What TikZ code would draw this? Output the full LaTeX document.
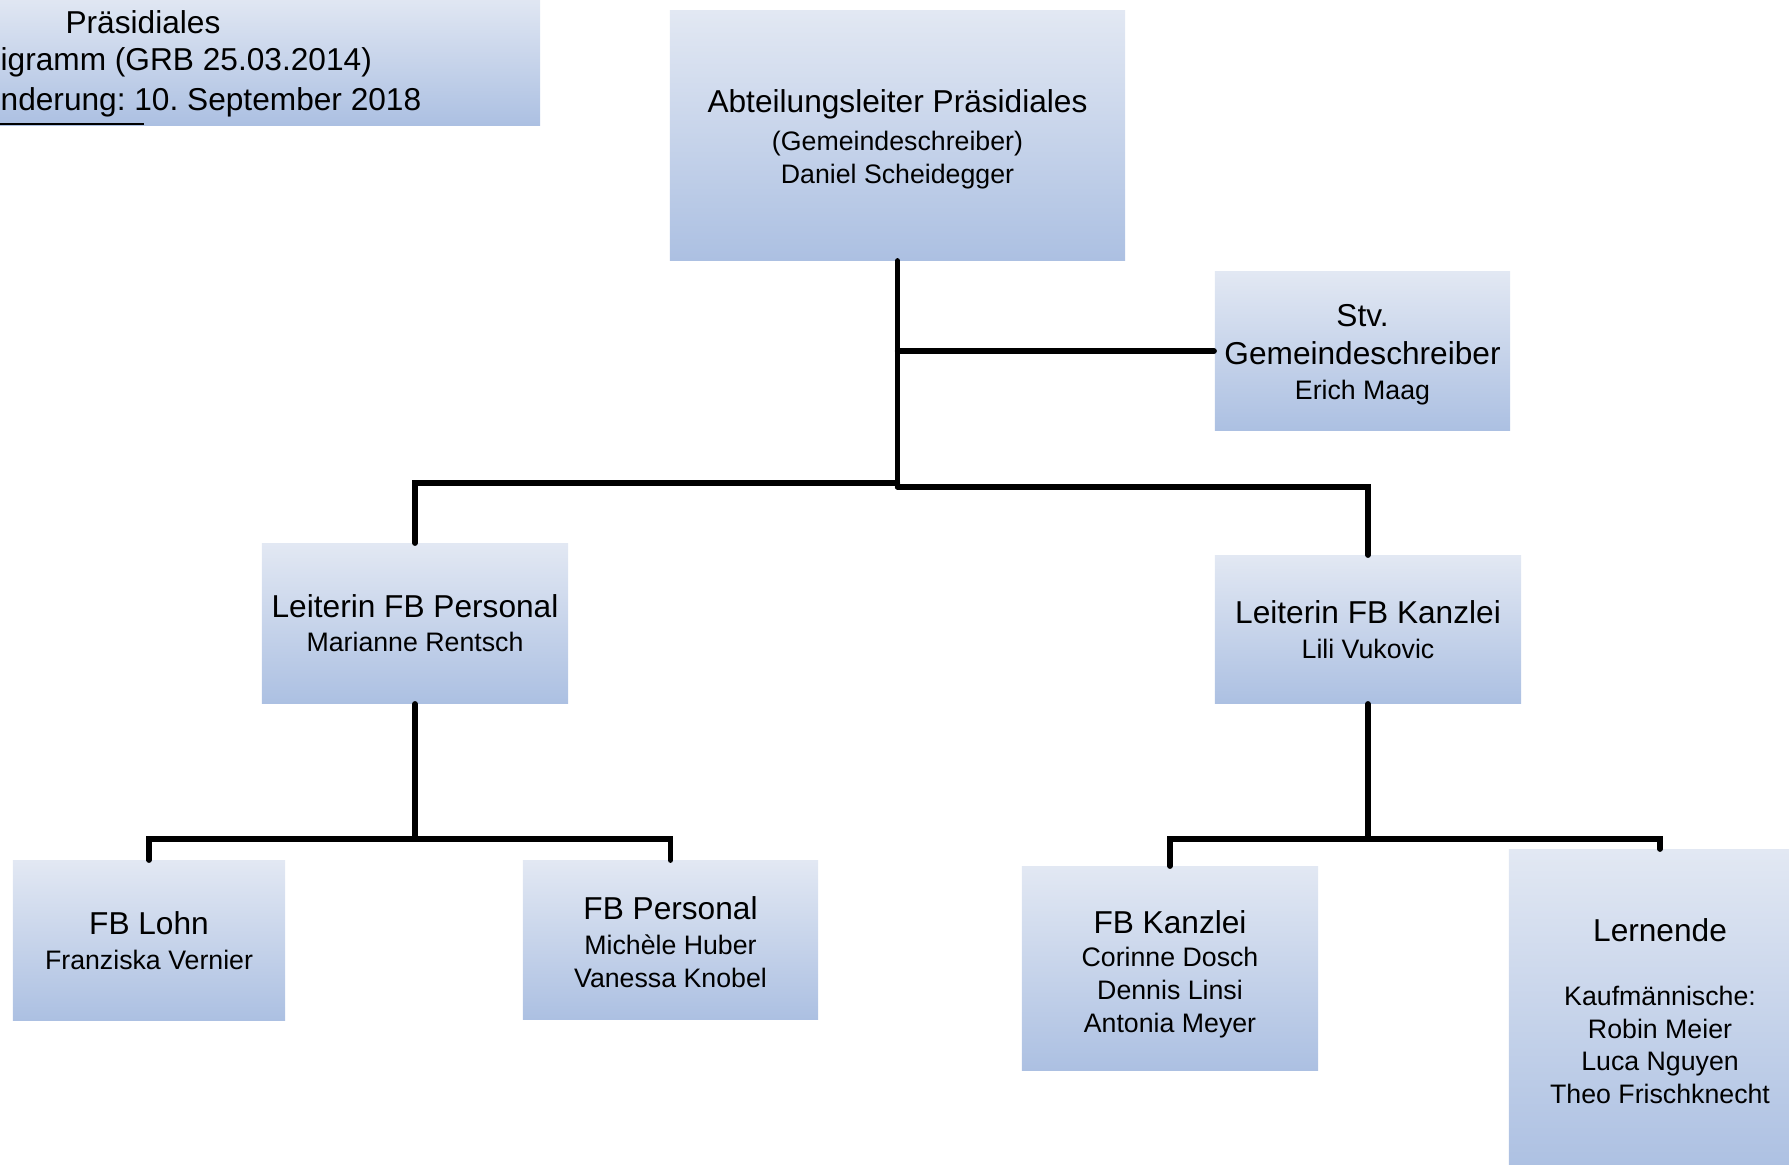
\documentclass[tikz,border=0pt]{standalone}
\usepackage{fontspec}
\setmainfont{Liberation Sans}
\usepackage{tikz}
\usetikzlibrary{positioning}
\usetikzlibrary{calc}
\frenchspacing
\definecolor{boxtop}{RGB}{226,232,243}
\definecolor{boxbottom}{RGB}{172,192,226}
\newcommand{\unithead}{\fontsize{9}{11}\selectfont}
\newcommand{\unitname}{\fontsize{7.6}{9.3}\selectfont}
\newcommand{\headroom}[2]{\raisebox{0pt}[\dimexpr\height+#1\relax]{#2}}
\tikzset{
    unit/.style={rectangle, top color=boxtop, bottom color=boxbottom, align=center, inner sep=0pt, font=\unitname},
    link/.style={line width=1.5pt, line cap=round},
}

\begin{document}
\begin{tikzpicture}[x=0.01cm, y=-0.01cm] % organigramm
	\useasboundingbox (0,0) rectangle (1789,1164);
	% title block, cut at the left edge
	\node[unit, minimum width=5.6cm, minimum height=1.3cm] (title) at (260,60) {};
	\node[font=\unithead, inner sep=0pt] (t1) at (143,22) {Präsidiales};
	\node[font=\unithead, inner sep=0pt, anchor=west] (t2) at (0,62.5) {igramm (GRB 25.03.2014)};
	\node[font=\unithead, inner sep=0pt, anchor=west] (t3) at (0,102.5) {nderung: 10. September 2018};
	\draw[line width=0.8pt] (0,124) -- (144,124);
	% units
	\node[unit, minimum width=4.55cm, minimum height=2.49cm] (chief) at (897.5,135.5) {\headroom{2pt}{\unithead Abteilungsleiter Präsidiales}\\[1.7pt] (Gemeindeschreiber)\\ Daniel Scheidegger};
	\node[unit, minimum width=2.95cm, minimum height=1.58cm] (stv) at (1362.5,351) {\headroom{2pt}{\unithead Stv.}\\[1.7pt] {\unithead Gemeindeschreiber}\\[0.5pt] Erich Maag};
	\node[unit, minimum width=3.06cm, minimum height=1.59cm] (lp) at (415,623.5) {{\unithead Leiterin FB Personal}\\[0.45pt] Marianne Rentsch};
	\node[unit, minimum width=3.06cm, minimum height=1.47cm] (lk) at (1368,629.5) {{\unithead Leiterin FB Kanzlei}\\[0.75pt] Lili Vukovic};
	\node[unit, minimum width=2.72cm, minimum height=1.59cm] (lohn) at (149,940.5) {{\unithead FB Lohn}\\[0.75pt] Franziska Vernier};
	\node[unit, minimum width=2.95cm, minimum height=1.58cm] (personal) at (670.5,940) {\headroom{1.3pt}{\unithead FB Personal}\\[0.6pt] Michèle Huber\\ Vanessa Knobel};
	\node[unit, minimum width=2.96cm, minimum height=2.03cm] (kanzlei) at (1170,968.5) {\headroom{3.2pt}{\unithead FB Kanzlei}\\[0.2pt] Corinne Dosch\\ Dennis Linsi\\ Antonia Meyer};
	\node[unit, minimum width=3.02cm, minimum height=3.22cm] (lernende) at (1660,1011) {{\unithead Lernende}\\[9pt] Kaufmännische:\\ Robin Meier\\ Luca Nguyen\\ Theo Frischknecht};
	% connectors
	\coordinate (hubL) at (897.5,483);
	\coordinate (hubR) at (897.5,487);
	\coordinate (busP) at (415,839);
	\coordinate (busK) at (1368,839);
	\draw[link] (chief.south) -- (hubR);
	\draw[link] (chief.south |- stv.west) -- (stv.west);
	\draw[link] (hubL) -| (lp.north);
	\draw[link] (hubR) -| (lk.north);
	\draw[link] (lp.south) -- (busP);
	\draw[link] (lohn.north) |- (busP) -| (personal.north);
	\draw[link] (lk.south) -- (busK);
	\draw[link] (kanzlei.north) |- (busK) -| (lernende.north);
\end{tikzpicture}
\end{document}
